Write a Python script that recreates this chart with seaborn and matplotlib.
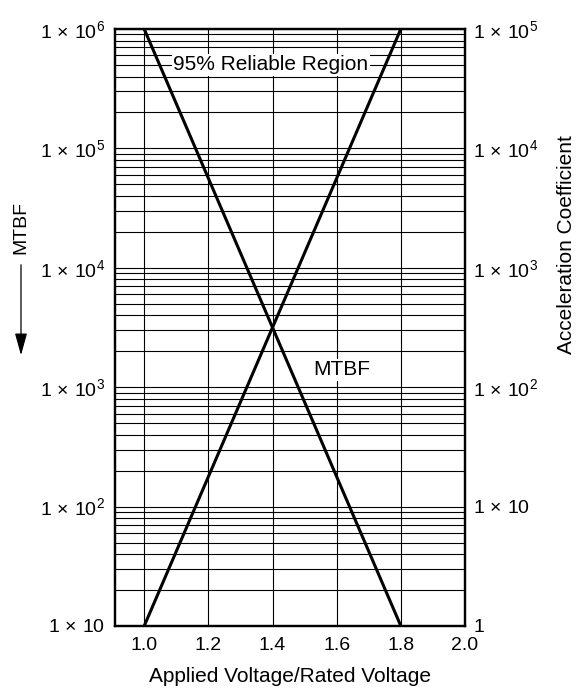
import numpy as np
import pandas as pd
import matplotlib
matplotlib.use("Agg")
import matplotlib.pyplot as plt
import seaborn as sns
from matplotlib.ticker import LogLocator, FixedLocator, NullFormatter

voltage = [1.0, 1.8]
mtbf = [1e6, 10]
accel = [1, 1e5]
x_ticks = [1.0, 1.2, 1.4, 1.6, 1.8, 2.0]
left_ticks = [10, 1e2, 1e3, 1e4, 1e5, 1e6]
left_labels = [r"$\mathregular{1\,\times\,10}$", r"$\mathregular{1\,\times\,10^{2}}$", r"$\mathregular{1\,\times\,10^{3}}$",
               r"$\mathregular{1\,\times\,10^{4}}$", r"$\mathregular{1\,\times\,10^{5}}$", r"$\mathregular{1\,\times\,10^{6}}$"]
right_ticks = [1, 10, 1e2, 1e3, 1e4, 1e5]
right_labels = [r"$\mathregular{1}$", r"$\mathregular{1\,\times\,10}$", r"$\mathregular{1\,\times\,10^{2}}$",
                r"$\mathregular{1\,\times\,10^{3}}$", r"$\mathregular{1\,\times\,10^{4}}$", r"$\mathregular{1\,\times\,10^{5}}$"]

sns.set_theme(style="white")
plt.rcParams['font.family'] = ['Liberation Sans', 'DejaVu Sans']
plt.rcParams['mathtext.fontset'] = 'custom'
plt.rcParams['mathtext.rm'] = 'Liberation Sans'
plt.rcParams['mathtext.it'] = 'Liberation Sans:italic'
plt.rcParams['mathtext.bf'] = 'Liberation Sans:bold'

FS = 14
fig = plt.figure(figsize=(5.85, 6.89), dpi=100)
ax = fig.add_axes([115/585, 1-626/689, (465-115)/585, (626-29)/689])

df1 = pd.DataFrame({"v": voltage, "y": mtbf})
df2 = pd.DataFrame({"v": voltage, "y": accel})

ax.set_yscale("log")
ax.set_ylim(10, 1e6)
ax.set_xlim(0.909, 2.0)
sns.lineplot(data=df1, x="v", y="y", ax=ax, color="black", lw=2.2, zorder=3)

ax2 = ax.twinx()
ax2.set_yscale("log")
ax2.set_ylim(1, 1e5)
sns.lineplot(data=df2, x="v", y="y", ax=ax2, color="black", lw=2.2, zorder=3)
ax2.set_xlim(0.909, 2.0)

# grid
ax.yaxis.set_major_locator(FixedLocator(left_ticks))
ax.yaxis.set_minor_locator(LogLocator(base=10, subs=np.arange(2, 10)))
ax.yaxis.set_minor_formatter(NullFormatter())
ax.set_yticklabels(left_labels)
ax.set_xticks(x_ticks)
ax.set_xticklabels([f"{t:.1f}" for t in x_ticks])
ax.grid(True, which="both", axis="y", color="black", lw=0.8)
for xv in x_ticks[:-1]:
    ax.axvline(xv, color="black", lw=0.8, zorder=1)
ax.tick_params(axis="both", which="both", length=0, labelsize=FS, colors="black")
ax.tick_params(axis="y", pad=7)
ax.tick_params(axis="x", pad=8)

ax2.yaxis.set_major_locator(FixedLocator(right_ticks))
ax2.yaxis.set_minor_formatter(NullFormatter())
ax2.set_yticklabels(right_labels)
ax2.tick_params(axis="both", which="both", length=0, labelsize=FS, colors="black", pad=6)
ax2.set_ylabel("")
ax.set_ylabel("")
ax.set_xlabel("Applied Voltage/Rated Voltage", fontsize=15, color="black", labelpad=9)

fig.text(566/585, 1-245/689, "Acceleration Coefficient", rotation=90, ha="center", va="center",
         fontsize=15, color="black")

for a in (ax, ax2):
    for s in a.spines.values():
        s.set_color("black")
        s.set_linewidth(1.6)

box = dict(facecolor="white", edgecolor="none", pad=1.0)
ax.text(1.394, 5.0e5, "95% Reliable Region", ha="center", va="center", fontsize=15, color="black", bbox=box, zorder=4)
ax.text(1.616, 1.4e3, "MTBF", ha="center", va="center", fontsize=15, color="black", bbox=box, zorder=4)

# left annotated label with arrow
fig.text(21/585, 1-228/689, "MTBF", rotation=90, ha="center", va="center", fontsize=FS, color="black")
fig.add_artist(matplotlib.patches.FancyArrowPatch((21/585, 1-262/689), (21/585, 1-358/689),
               transform=fig.transFigure, arrowstyle="-|>,head_length=9,head_width=2.5",
               color="black", lw=0.9, mutation_scale=1.5))

fig.savefig("out.png", dpi=100)
